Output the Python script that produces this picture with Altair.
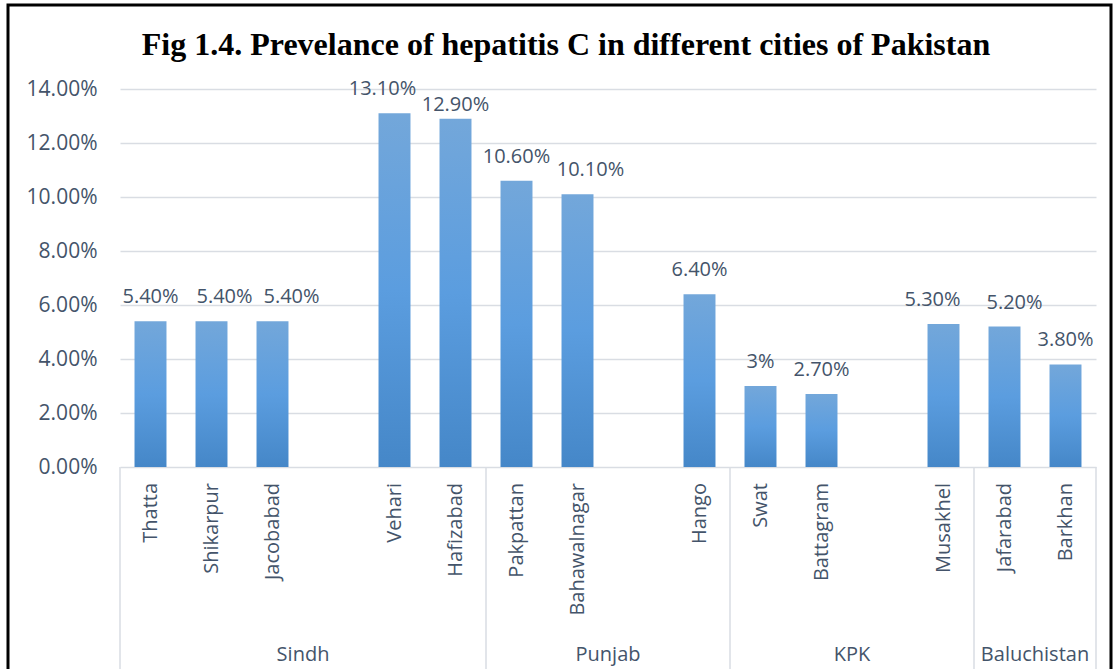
import altair as alt
import pandas as pd

# ---- data -----------------------------------------------------------------
title_text = "Fig 1.4. Prevelance of hepatitis C in different cities of Pakistan"

# one slot per category position; empty strings are blank gaps on the axis
cities = ["Thatta", "Shikarpur", "Jacobabad", "", "Vehari", "Hafizabad",
          "Pakpattan", "Bahawalnagar", "", "Hango",
          "Swat", "Battagram", "", "Musakhel",
          "Jafarabad", "Barkhan"]
provinces = (["Sindh"] * 6 + ["Punjab"] * 4 + ["KPK"] * 4 + ["Baluchistan"] * 2)
prevalence = [5.4, 5.4, 5.4, None, 13.1, 12.9,
              10.6, 10.1, None, 6.4,
              3.0, 2.7, None, 5.3,
              5.2, 3.8]
value_labels = ["5.40%", "5.40%", "5.40%", "", "13.10%", "12.90%",
                "10.60%", "10.10%", "", "6.40%",
                "3%", "2.70%", "", "5.30%",
                "5.20%", "3.80%"]
y_ticks = [0, 2, 4, 6, 8, 10, 12, 14]

# small pixel nudges that keep neighbouring value labels apart
label_nudge_px = [(0, 0), (13, 0), (19, 0), (0, 0), (-12, 0), (0, 10),
                  (0, 0), (13, 0), (0, 0), (0, 0),
                  (0, 0), (0, 0), (0, 0), (-11, 0),
                  (10, 0), (0, 0)]

# ---- layout ---------------------------------------------------------------
PLOT_W, PLOT_H = 976, 378
LEFT, TOP = 120, 89
N_SLOTS = len(cities)
Y_MAX = 14
PX_PER_SLOT = PLOT_W / N_SLOTS
PX_PER_UNIT = PLOT_H / Y_MAX
BAR_HALF = 0.262

TEXT = "#44546a"
GRID = "#d9dde3"
FONT = "Open Sans"

x_scale = alt.Scale(domain=[0, N_SLOTS], nice=False, zero=False, padding=0)
y_scale = alt.Scale(domain=[0, Y_MAX], nice=False, padding=0)

rows = []
for i, (c, v, lab, (ndx, ndy)) in enumerate(zip(cities, prevalence, value_labels, label_nudge_px)):
    if v is None:
        continue
    rows.append({
        "city": c, "value": v, "label": lab,
        "x0": i + 0.5 - BAR_HALF, "x1": i + 0.5 + BAR_HALF, "xc": i + 0.5,
        "lx": i + 0.5 + ndx / PX_PER_SLOT,
        "ly": v - ndy / PX_PER_UNIT,
    })
bars_df = pd.DataFrame(rows)

# province spans
groups = []
start = 0
for i in range(1, N_SLOTS + 1):
    if i == N_SLOTS or provinces[i] != provinces[start]:
        groups.append({"province": provinces[start], "start": start, "end": i,
                       "mid": (start + i) / 2})
        start = i
groups_df = pd.DataFrame(groups)
bounds_df = pd.DataFrame({"b": [0] + [g["end"] for g in groups]})

gradient = alt.LinearGradient(
    gradient="linear",
    stops=[alt.GradientStop(color="#73a7da", offset=0),
           alt.GradientStop(color="#5b9ddf", offset=0.5),
           alt.GradientStop(color="#4587c8", offset=1)],
    x1=0, x2=0, y1=0, y2=1,
)

bars = alt.Chart(bars_df).mark_bar(color=gradient).encode(
    x=alt.X("x0:Q", scale=x_scale, axis=None),
    x2="x1:Q",
    y=alt.Y("value:Q", scale=y_scale, title=None,
            axis=alt.Axis(values=y_ticks,
                          labelExpr="format(datum.value, '.2f') + '%'",
                          grid=True, gridColor=GRID, gridWidth=1.5,
                          ticks=False, domain=False, labelPadding=23,
                          labelFont=FONT, labelFontSize=21, labelColor=TEXT)),
    y2=alt.datum(0),
)

value_text = alt.Chart(bars_df).mark_text(
    font=FONT, fontSize=20, color=TEXT, baseline="alphabetic", dy=-18
).encode(
    x=alt.X("lx:Q", scale=x_scale, axis=None),
    y=alt.Y("ly:Q", scale=y_scale),
    text="label:N",
)

city_df = pd.DataFrame({"city": cities, "xc": [i + 0.5 for i in range(N_SLOTS)]})
city_text = alt.Chart(city_df).mark_text(
    font=FONT, fontSize=20, color=TEXT, angle=270, align="right", baseline="middle"
).encode(
    x=alt.X("xc:Q", scale=x_scale, axis=None),
    y=alt.value(PLOT_H + 16),
    text="city:N",
)

group_text = alt.Chart(groups_df).mark_text(
    font=FONT, fontSize=20, color=TEXT, baseline="middle"
).encode(
    x=alt.X("mid:Q", scale=x_scale, axis=None),
    y=alt.value(PLOT_H + 188),
    text="province:N",
)

separators = alt.Chart(bounds_df).mark_rule(color=GRID, strokeWidth=1.5).encode(
    x=alt.X("b:Q", scale=x_scale, axis=None),
    y=alt.value(PLOT_H),
    y2=alt.value(PLOT_H + 260),
)

frame = alt.Chart(alt.Data(values=[{}])).mark_rect(
    filled=False, stroke="black", strokeWidth=3
).encode(
    x=alt.value(8 - LEFT), x2=alt.value(1111 - LEFT),
    y=alt.value(5 - TOP), y2=alt.value(720 - TOP),
)

title = alt.Chart(alt.Data(values=[{"t": title_text}])).mark_text(
    font="Liberation Serif", fontWeight="bold", fontSize=32, color="black",
    align="center", baseline="alphabetic"
).encode(
    x=alt.value(566 - LEFT), y=alt.value(55 - TOP), text="t:N",
)

chart = alt.layer(
    separators, bars, value_text, city_text, group_text, title, frame
).properties(
    width=PLOT_W, height=PLOT_H,
    autosize=alt.AutoSizeParams(type="none"),
    padding={"left": LEFT, "top": TOP, "right": 1116 - LEFT - PLOT_W,
             "bottom": 669 - TOP - PLOT_H},
    background="white",
).configure_view(stroke=None)

chart.save("out.html", embed_options={"renderer": "svg", "actions": False})
